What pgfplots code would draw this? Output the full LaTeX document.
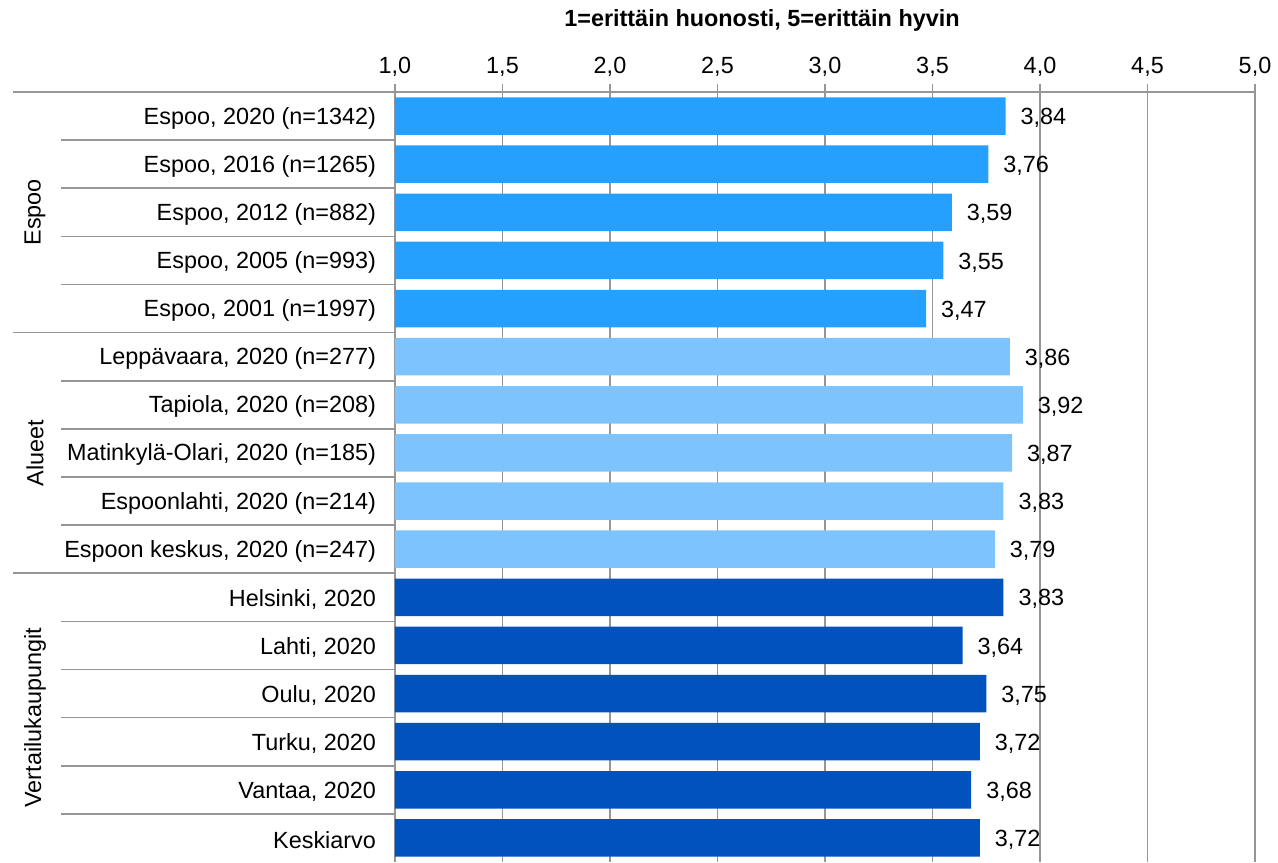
\documentclass[border=0pt]{standalone}
\usepackage{pgfplots}
\pgfplotsset{compat=1.18}
\usepackage{fontspec}
\setmainfont{Liberation Sans}
\usetikzlibrary{calc}
\definecolor{espoo}{RGB}{38,160,255}
\definecolor{alue}{RGB}{125,196,255}
\definecolor{vert}{RGB}{0,82,190}
\definecolor{grd}{RGB}{150,150,150}

\begin{document}
\begin{tikzpicture}[font=\fontsize{11.7}{14}\selectfont]
\begin{axis}[
    scale only axis, width=430pt, height=385pt,
    xbar, bar shift=0pt, bar width=0.78,
    xmin=1, xmax=5, ymin=0.5, ymax=16.5, y dir=reverse,
    axis x line*=top, axis y line*=left,
    axis line style={grd, line width=0.8pt},
    xtick={1,1.5,2,2.5,3,3.5,4,4.5,5},
    xmajorgrids, grid style={grd, line width=0.8pt},
    xtick align=outside, major tick length=4pt,
    xtick style={grd, line width=0.8pt},
    x tick label style={/pgf/number format/.cd, fixed, fixed zerofill,
        precision=1, use comma, assume math mode=true},
    ytick={1,...,16},
    yticklabels={{Espoo, 2020 (n=1342)},{Espoo, 2016 (n=1265)},{Espoo, 2012 (n=882)},
        {Espoo, 2005 (n=993)},{Espoo, 2001 (n=1997)},{Leppävaara, 2020 (n=277)},
        {Tapiola, 2020 (n=208)},{Matinkylä-Olari, 2020 (n=185)},{Espoonlahti, 2020 (n=214)},
        {Espoon keskus, 2020 (n=247)},{Helsinki, 2020},{Lahti, 2020},{Oulu, 2020},
        {Turku, 2020},{Vantaa, 2020},{Keskiarvo}},
    ytick style={draw=none},
    y tick label style={xshift=-2pt, yshift=-1pt},
    nodes near coords={\pgfmathprintnumber[fixed,fixed zerofill,precision=2,use comma,assume math mode=true]{\pgfplotspointmeta}},
    nodes near coords style={anchor=west, xshift=4pt, yshift=-1pt, text=black},
]
\addplot[draw=none, fill=espoo] coordinates {
    (3.84,1) (3.76,2) (3.59,3) (3.55,4) (3.47,5)
};
\addplot[draw=none, fill=alue] coordinates {
    (3.86,6) (3.92,7) (3.87,8) (3.83,9) (3.79,10)
};
\addplot[draw=none, fill=vert] coordinates {
    (3.83,11) (3.64,12) (3.75,13) (3.72,14) (3.68,15) (3.72,16)
};
\coordinate (tl) at (axis cs:1,0.5);
\coordinate (bl) at (axis cs:1,16.5);
\coordinate (tr) at (axis cs:5,0.5);
\end{axis}
% row separators
\foreach \k in {1,2,3,4,6,7,8,9,11,12,13,14,15}
    \draw[grd, line width=0.8pt] ($(tl)!\k/16!(bl)$) -- ++(-167pt,0);
\foreach \k in {0,5,10}
    \draw[grd, line width=0.8pt] ($(tl)!\k/16!(bl)$) -- ++(-191pt,0);
% group labels
\node[rotate=90] at ($($(tl)!2.5/16!(bl)$)+(-180pt,0)$) {Espoo};
\node[rotate=90] at ($($(tl)!7.5/16!(bl)$)+(-180pt,0)$) {Alueet};
\node[rotate=90] at ($($(tl)!13/16!(bl)$)+(-180pt,0)$) {Vertailukaupungit};
% title
\node[font=\fontsize{11.7}{14}\selectfont\bfseries] at ($(tl)+(183.5pt,36pt)$) {1=erittäin huonosti, 5=erittäin hyvin};
\pgfresetboundingbox
\useasboundingbox ($(bl)+(-197.5pt,0)$) rectangle ($(tr)+(11.5pt,46pt)$);
\end{tikzpicture}
\end{document}
